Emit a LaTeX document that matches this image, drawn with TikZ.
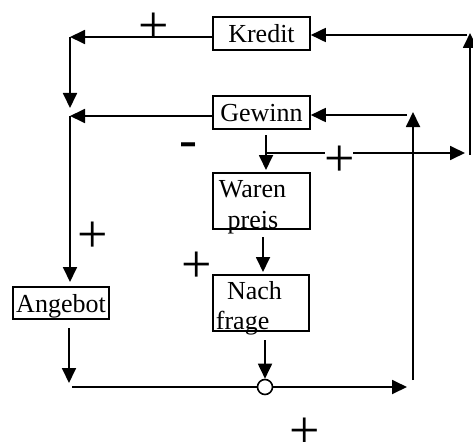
\documentclass[tikz,border=0pt]{standalone}
\usepackage{fontspec}
\setmainfont{Liberation Serif}
\usetikzlibrary{arrows.meta}
\begin{document}
\begin{tikzpicture}[x=1pt,y=-1pt,
  line width=1.8pt,
  arr/.style={-{Triangle[length=15pt,width=14pt]}},
  box/.style={draw, line width=1.6pt, rectangle, inner sep=0pt,
    minimum width=97pt, minimum height=33pt,
    font=\fontsize{26}{30}\selectfont, text height=18pt, text depth=0pt},
  lbl/.style={inner sep=0pt, font=\fontsize{26}{30}\selectfont, anchor=base},
  sign/.style={inner sep=0pt, font=\fontsize{54}{60}\selectfont},
]
\useasboundingbox[fill=white] (0,0) rectangle (473,441);

% boxes
\node[box] (kredit) at (261.5,33.5) {Kredit};
\node[box] (gewinn) at (261.5,112.5) {Gewinn};
\node[box, minimum height=56pt] (waren) at (261.5,201) {};
\node[box, minimum width=96pt, minimum height=56pt] (nach) at (261,303) {};
\node[box, minimum width=96pt, minimum height=32pt] (angebot) at (61,303) {Angebot};
\node[circle, draw, fill=white, minimum size=15pt, inner sep=0pt, line width=1.6pt] (sum) at (265,387) {};

% routing points
\coordinate (c1) at (70,37);
\coordinate (c2) at (70,108);
\coordinate (c3) at (70,116);
\coordinate (c4) at (70,282);
\coordinate (a1) at (69,328);
\coordinate (a2) at (69,383);
\coordinate (b0) at (72,387);
\coordinate (b1) at (407,387);
\coordinate (n1) at (265,340);
\coordinate (w1) at (263,237);
\coordinate (w2) at (263,272);
\coordinate (g1) at (266,135);
\coordinate (g2) at (266,170);
\coordinate (h0) at (267,153);
\coordinate (h1) at (325,153);
\coordinate (h2) at (353,153);
\coordinate (h3) at (465,153);
\coordinate (r0) at (470,155);
\coordinate (r1) at (470,33);
\coordinate (r2) at (467,35);
\coordinate (m0) at (413,380);
\coordinate (m1) at (413,112);
\coordinate (m2) at (407,115);

% connectors
\draw[arr] (kredit.west |- c1) -- (c1);
\draw[arr] (c1) -- (c2);
\draw[arr] (gewinn.west |- c3) -- (c3);
\draw[arr] (c3) -- (c4);
\draw[arr] (a1) -- (a2);
\draw (b0) -- (sum.west);
\draw[arr] (sum.east) -- (b1);
\draw[arr] (n1) -- (sum.north);
\draw[arr] (w1) -- (w2);
\draw[arr] (g1) -- (g2);
\draw (h0) -- (h1);
\draw[arr] (h2) -- (h3);
\draw[arr] (r0) -- (r1);
\draw[arr] (r2) -- (kredit.east |- r2);
\draw[arr] (m0) -- (m1);
\draw[arr] (m2) -- (gewinn.east |- m2);

% box texts
\node[lbl] (waren1) at (252.5,197) {Waren};
\node[lbl] (waren2) at (253,228) {preis};
\node[lbl] (nach1) at (254.5,299) {Nach};
\node[lbl, anchor=base west] (nach2) at (215,329) {frage};

% signs
\node[sign] (p1) at (154,28) {+};
\node[sign] (p2) at (93,237) {+};
\node[sign] (p3) at (197,267.5) {+};
\node[sign] (p4) at (339.5,161) {+};
\node[sign] (p5) at (305,433) {+};
\node[sign, anchor=base] (mi) at (188.5,157) {-};
\end{tikzpicture}
\end{document}
